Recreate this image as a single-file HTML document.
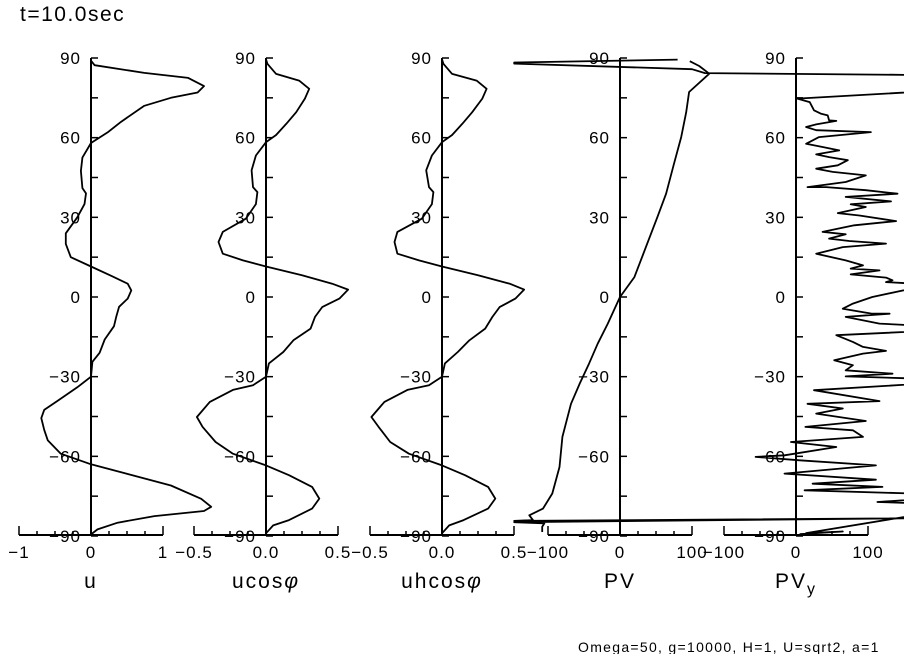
<!DOCTYPE html>
<html><head><meta charset="utf-8"><style>
html,body{margin:0;padding:0;background:#fff}
svg{display:block}
text{font-family:"Liberation Sans","DejaVu Sans",sans-serif;fill:#000}
</style></head><body>
<svg id="chart" width="904" height="654" viewBox="0 0 904 654" xmlns="http://www.w3.org/2000/svg">
<text x="20" y="21" font-size="21" letter-spacing="1.5">t=10.0sec</text>
<text x="578" y="652" font-size="14" letter-spacing="1.3">Omega=50, g=10000, H=1, U=sqrt2, a=1</text>
<g id="plots"></g>
</svg>
<script>
// ---- data ----
const latTicks = [90, 60, 30, 0, -30, -60, -90];
const uLat = [89,87.3,84.4,82.5,79.4,77,75,72,66,62,58,52.5,47.5,41,39,35,30,24,20,15,11.5,8,5,2.5,-0.6,-3.7,-7.5,-11,-16,-21,-24.4,-30,-34,-39,-42.5,-45.6,-50,-54,-59,-63,-66,-71,-76,-79,-80.6,-82.5,-85,-87.5,-89.4];
const uVal = [0,0.05,0.74,1.35,1.57,1.48,1.11,0.74,0.42,0.23,0,-0.12,-0.14,-0.12,-0.07,-0.09,-0.19,-0.35,-0.35,-0.28,0,0.28,0.51,0.56,0.51,0.39,0.35,0.32,0.19,0.12,0.02,0,-0.19,-0.46,-0.65,-0.69,-0.65,-0.6,-0.42,0,0.42,1.11,1.53,1.67,1.57,0.88,0.37,0.09,0];
const ucLat = [89.5,87.8,84,81.5,78.4,74.7,69.6,65.2,61,58.3,53.3,47.7,41.4,39.5,35,29.5,24.5,20.7,16.3,13.8,11.5,8.2,5,2.8,-0.6,-3.8,-7.5,-11.9,-16.3,-20.7,-25,-30,-33.2,-35,-39.5,-45.2,-48.9,-54.6,-59,-63.4,-67.1,-71.5,-75.9,-79.7,-84,-86,-89];
const ucVal = [0,0.01,0.07,0.23,0.30,0.27,0.21,0.14,0.07,0,-0.07,-0.10,-0.09,-0.06,-0.07,-0.14,-0.30,-0.33,-0.30,-0.16,0,0.25,0.46,0.57,0.51,0.39,0.34,0.31,0.19,0.12,0.02,0,-0.09,-0.23,-0.39,-0.48,-0.44,-0.35,-0.23,0,0.16,0.32,0.37,0.32,0.16,0.05,0];
const uhVal = [0,0.01,0.07,0.24,0.31,0.28,0.21,0.14,0.07,0,-0.07,-0.11,-0.09,-0.06,-0.07,-0.14,-0.31,-0.33,-0.31,-0.16,0,0.25,0.47,0.57,0.51,0.40,0.35,0.30,0.19,0.11,0.02,0,-0.09,-0.24,-0.40,-0.49,-0.44,-0.36,-0.23,0,0.16,0.32,0.37,0.32,0.15,0.05,0];
const pvLat = [89.4,88.3,87.9,85.8,84.3,83.6,null,88.8,87,84.1,77.2,69.6,60.2,50.2,38.9,30.1,18.8,7.5,0,-10,-17.6,-25.1,-32.6,-40.2,-52.7,-64,-74,-79.7,-82.2,-84,-84.3,-83.3,-84.8,-85.2,-86.5,-88.5];
const pvVal = [80,-147,-147,100,118,420,null,97,110,124,96,92,85,75,64,52,36,20,0,-17,-31,-43,-56,-68,-80,-84,-94,-107,-126,-121,-147,420,-147,-105,-108,-108];
const pvyLat = [78.5,74.7,73.4,70.3,69.0,68.4,66.5,66.3,65.0,64.0,62.8,62.1,60.2,57.7,56.5,55.2,53.7,52.7,51.5,49.6,48.3,47.1,45.8,43.3,41.4,41.4,40.2,38.9,37.7,36.0,34.9,33.9,31.6,30.7,28.6,27.0,24.5,23.6,22.0,21.1,20.1,18.8,16.3,13.8,11.9,10.7,10.0,8.5,7.3,6.3,5.6,3.8,2.5,0,-2.5,-4.4,-6.3,-6.3,-7.5,-10.0,-11.9,-14.4,-16.9,-18.8,-20.3,-21.3,-23.8,-25.7,-27.6,-28.9,-29.9,-31.4,-35.1,-39.2,-40.2,-42.0,-43.9,-46.7,-48.9,-50.2,-52.7,-54.6,-56.5,-59.6,-60.2,-61.5,-63.4,-66.5,-68.8,-70.3,-71.5,-72.8,-74.7,-77.2,-78.4,-88.9,-88.3,-89.3];
const pvyVal = [250,2,19,25,35,44,46,56,28,14,28,104,32,14,37,60,28,46,72,58,28,51,97,69,16,42,97,141,69,132,76,97,58,88,139,81,37,69,46,74,125,65,28,69,93,76,116,76,125,134,125,250,149,106,79,65,106,130,69,116,250,56,79,93,125,93,53,79,69,134,69,250,25,116,16,65,28,97,13,79,93,-7,56,-16,-56,5,111,-16,111,23,120,12,250,113,250,14,65,5];
const panelNames = ["u-panel","ucos-panel","uhcos-panel","pv-panel","pvy-panel"];
const xMins = [-1,-0.5,-0.5,-100,-100];
const xMaxs = [1,0.5,0.5,100,100];
const xTickLabels = [["−1","0","1"],["−0.5","0.0","0.5"],["−0.5","0.0","0.5"],["−100","0","100"],["−100","0","100"]];
const xTickValues = [[-1,0,1],[-0.5,0,0.5],[-0.5,0,0.5],[-100,0,100],[-100,0,100]];
// ---- layout ----
const origins = [91,266,442,620,796];
const half = 72, yTop = 58, yBot = 536, axisY = 535;
const NS = "http://www.w3.org/2000/svg";
const root = document.getElementById("plots");
function yS(lat){ return yTop + (90 - lat) / 180 * (yBot - yTop); }
function mk(tag, attrs, parent){ const e = document.createElementNS(NS, tag); for (const k in attrs) e.setAttribute(k, attrs[k]); parent.appendChild(e); return e; }
const series = [[uLat,uVal],[ucLat,ucVal],[ucLat,uhVal],[pvLat,pvVal],[pvyLat,pvyVal]];
const titles = ["u","ucosφ","uhcosφ","PV","PVy"];
for (let p = 0; p < 5; p++) {
  const o = origins[p], mn = xMins[p], mx = xMaxs[p];
  const xS = v => o - half + (v - mn) / (mx - mn) * 2 * half;
  const g = mk("g", {}, root);
  
  
  const ya = mk("line", {x1:xS(0), x2:xS(0), y1:yTop, y2:axisY, stroke:"#000", "stroke-width":2}, g);
  
  
  for (let lat = 90; lat >= -90; lat -= 15) {
    mk("line", {x1:xS(0), x2:xS(0)+7, y1:yS(lat), y2:yS(lat), stroke:"#000", "stroke-width":1.5}, g);
  }
  latTicks.forEach(l => {
    const t = mk("text", {x:xS(0)-10, y:yS(l)+6, "font-size":17, "letter-spacing":1, "text-anchor":"end"}, g);
    t.textContent = l < 0 ? "−" + Math.abs(l) : String(l);
    
    
  });
  const xa = mk("line", {x1:xS(mn), x2:xS(mx), y1:axisY, y2:axisY, stroke:"#000", "stroke-width":2}, g);
  
  
  for (let i = 0; i <= 8; i++) {
    const v = mn + (mx - mn) * i / 8;
    const h = (i === 0 || i === 8) ? 9 : 4;
    mk("line", {x1:xS(v), x2:xS(v), y1:axisY, y2:axisY - h, stroke:"#000", "stroke-width":1.5}, g);
  }
  xTickValues[p].forEach((v, i) => {
    const t = mk("text", {x:xS(v), y:558, "font-size":17, "letter-spacing":1, "text-anchor":"middle"}, g);
    t.textContent = xTickLabels[p][i];
    
    
  });
  const tt = mk("text", {x:o, y:588, "font-size":21, "letter-spacing":2, "text-anchor":"middle"}, g);
  if (p === 4) { tt.textContent = "PV"; const s = mk("tspan", {"font-size":16, dy:6}, tt); s.textContent = "y"; }
  else if (p === 1 || p === 2) { tt.textContent = p === 1 ? "ucos" : "uhcos"; const s = mk("tspan", {"font-style":"italic"}, tt); s.textContent = "φ"; }
  else tt.textContent = titles[p];
  
  
  const [la, va] = series[p];
  let d = "", pen = false;
  for (let i = 0; i < la.length; i++) {
    if (la[i] === null) { pen = false; continue; }
    d += (pen ? "L" : "M") + xS(va[i]).toFixed(1) + " " + yS(la[i]).toFixed(1);
    pen = true;
  }
  const path = mk("path", {d:d, fill:"none", stroke:"#000", "stroke-width":1.8, "stroke-linejoin":"round"}, g);
  
  
}
</script>
</body></html>
